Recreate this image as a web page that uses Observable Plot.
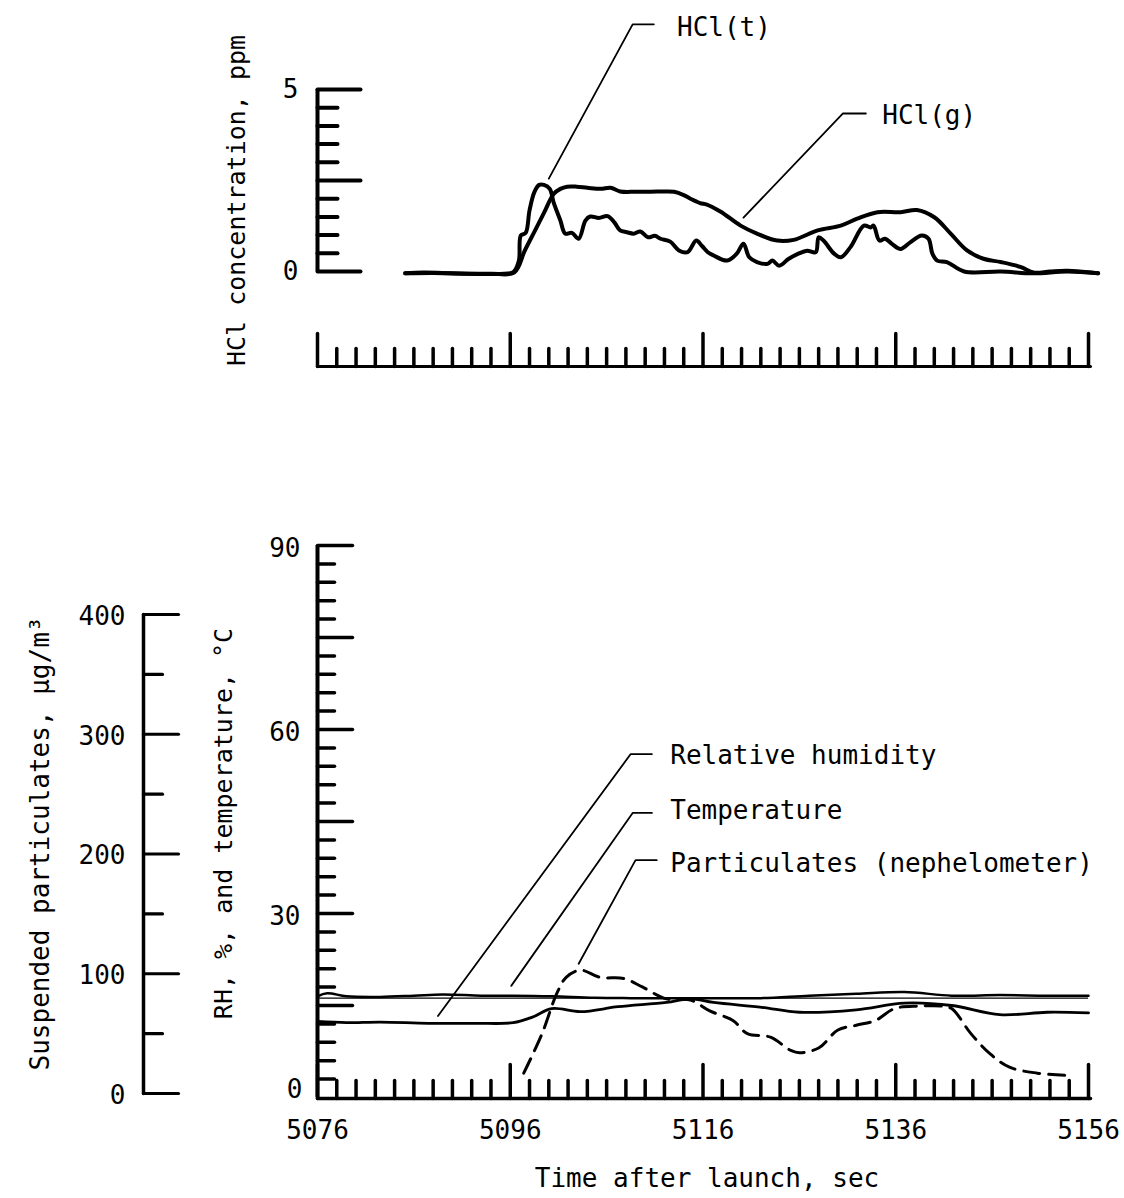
<!DOCTYPE html>
<html><head><meta charset="utf-8">
<script src="https://cdn.jsdelivr.net/npm/d3@7"></script>
<script src="https://cdn.jsdelivr.net/npm/@observablehq/plot@0.6"></script>
<style>
html,body{margin:0;padding:0;background:#fff;}
#chart{position:relative;width:1124px;height:1198px;background:#fff;overflow:hidden;}
#chart svg{position:absolute;left:0;}
</style></head><body><div id="chart"></div>
<script>
// ---------- DATA ----------
// Top panel: HCl concentration, ppm
const hclTTime = [5085.1, 5087, 5090, 5093, 5096, 5096.4, 5096.9, 5097.1, 5097.6, 5098, 5098.5, 5099, 5099.5, 5100.1, 5100.5, 5101.2, 5101.7, 5102.4, 5103.1, 5103.8, 5104.3, 5105.2, 5106.1, 5106.8, 5107.4, 5108.1, 5108.8, 5109.5, 5110.3, 5111, 5111.6, 5112.6, 5113.5, 5114.4, 5115.3, 5115.9, 5116.5, 5117.1, 5118.5, 5119.5, 5120.2, 5120.8, 5121.6, 5122.7, 5123.2, 5123.9, 5124.9, 5125.9, 5126.8, 5127.7, 5128, 5128.5, 5129.6, 5130.3, 5131.3, 5132.7, 5133.4, 5133.7, 5134.3, 5134.9, 5135.6, 5136.5, 5137.5, 5138.7, 5139.4, 5139.8, 5140.3, 5141.3, 5143.1, 5146.9, 5150.3, 5153.8, 5157];
const hclTValue = [-0.05, -0.03, -0.05, -0.07, -0.05, 0.0, 0.3, 0.99, 1.06, 1.68, 2.18, 2.38, 2.38, 2.27, 1.9, 1.4, 1.04, 1.06, 0.9, 1.4, 1.51, 1.47, 1.52, 1.35, 1.13, 1.08, 1.04, 1.1, 0.94, 0.98, 0.9, 0.82, 0.58, 0.53, 0.85, 0.7, 0.53, 0.44, 0.3, 0.49, 0.76, 0.39, 0.26, 0.21, 0.3, 0.16, 0.35, 0.49, 0.57, 0.53, 0.94, 0.85, 0.49, 0.39, 0.67, 1.26, 1.21, 1.26, 0.85, 0.9, 0.76, 0.62, 0.8, 0.99, 0.9, 0.49, 0.3, 0.26, 0.0, 0.0, -0.05, 0.0, -0.05];
const hclGTime = [5085.1, 5088, 5091, 5094, 5096.4, 5097.5, 5098.5, 5099.5, 5100.5, 5101.2, 5101.9, 5102.9, 5104, 5105.4, 5106.4, 5107.4, 5109, 5110.6, 5112, 5113, 5114, 5114.7, 5115.7, 5116.4, 5117.8, 5119.9, 5121.6, 5123.7, 5125.4, 5127.9, 5130.3, 5132, 5134.1, 5136.5, 5138.2, 5140, 5141.7, 5143.4, 5145.1, 5146.9, 5149, 5150.3, 5152, 5153.8, 5157];
const hclGValue = [-0.05, -0.04, -0.06, -0.06, -0.03, 0.57, 1.09, 1.61, 2.13, 2.27, 2.33, 2.33, 2.3, 2.27, 2.3, 2.2, 2.19, 2.19, 2.2, 2.19, 2.1, 2.0, 1.88, 1.84, 1.65, 1.26, 1.04, 0.85, 0.87, 1.13, 1.26, 1.45, 1.63, 1.63, 1.69, 1.49, 1.04, 0.58, 0.35, 0.26, 0.12, -0.03, 0.0, 0.02, -0.05];

// Bottom panel: RH (%), temperature (deg C), particulates (ug/m3)
const tempTime = [5076, 5077, 5079, 5082.5, 5086, 5089, 5093, 5096.3, 5100.3, 5104.7, 5108.5, 5112.2, 5117, 5122, 5127, 5131.9, 5136.9, 5141.8, 5146.8, 5151.7, 5156];
const tempValue = [16.5, 17.0, 16.5, 16.4, 16.6, 16.8, 16.6, 16.6, 16.5, 16.25, 16.2, 16.2, 16.2, 16.2, 16.6, 16.9, 17.2, 16.6, 16.7, 16.6, 16.6];
const tempRefValue = [16.2];
const rhTime = [5076, 5079, 5082.5, 5087.5, 5092.4, 5096.3, 5098.3, 5100.3, 5103.3, 5107.2, 5112.2, 5114.7, 5117.1, 5122.1, 5126, 5131.9, 5136.9, 5141.8, 5146.8, 5151.7, 5156];
const rhValue = [12.4, 12.2, 12.3, 12.1, 12.1, 12.2, 13.1, 14.5, 14.0, 14.8, 15.5, 16.1, 15.5, 14.7, 13.9, 14.3, 15.4, 15.0, 13.5, 13.9, 13.8];
const partTime = [5097.4, 5099.3, 5100.8, 5101.8, 5103.3, 5105.3, 5107.8, 5109.7, 5112.2, 5114.7, 5116.7, 5119.1, 5120.6, 5123, 5125.1, 5126, 5128, 5130, 5131.9, 5133.9, 5135.9, 5138.4, 5140.8, 5141.8, 5143.8, 5145.8, 5147.8, 5150.7, 5153.9];
const partValue = [17, 50, 83, 97, 103, 97, 96, 89, 79, 78, 69, 61, 50, 47, 36, 34, 38, 53, 57, 61, 71, 73, 73, 71, 50, 33, 22, 17, 15];

// Ticks and labels
const timeDomain = [5076, 5156];
const timeMajorTicks = [5076, 5096, 5116, 5136, 5156];
const timeMinorTicks = d3.range(5078, 5156, 2).filter(d => (d - 5076) % 20 !== 0);
const timeLabels = [5076, 5096, 5116, 5136, 5156];
const hclMajorTicks = [0, 2.5, 5];
const hclMinorTicks = [0.5, 1, 1.5, 2, 3, 3.5, 4, 4.5];
const hclLabels = [0, 5];
const rhMajorTicks = [15, 30, 45, 60, 75, 90];
const rhMinorTicks = d3.range(3, 90, 3).filter(d => d % 15 !== 0);
const rhLabels = [30, 60, 90];
const rhZeroLabel = [0];
const partMajorTicks = [0, 100, 200, 300, 400];
const partMinorTicks = [50, 150, 250, 350];
const partLabels = [0, 100, 200, 300, 400];

// Annotations (data units)
const topLeaders = [
  {id: "HCl(t)", t: 5100.0, v: 2.55}, {id: "HCl(t)", t: 5108.7, v: 6.79}, {id: "HCl(t)", t: 5110.9, v: 6.79},
  {id: "HCl(g)", t: 5120.2, v: 1.48}, {id: "HCl(g)", t: 5130.5, v: 4.34}, {id: "HCl(g)", t: 5132.9, v: 4.34}
];
const topNotes = [{label: "HCl(t)", t: 5113.3, v: 6.70}, {label: "HCl(g)", t: 5134.6, v: 4.29}];
const bottomLeaders = [
  {id: "rh", t: 5088.5, v: 13.3}, {id: "rh", t: 5108.5, v: 56.0}, {id: "rh", t: 5110.7, v: 56.0},
  {id: "temp", t: 5096.1, v: 18.2}, {id: "temp", t: 5108.7, v: 46.4}, {id: "temp", t: 5110.7, v: 46.4},
  {id: "part", t: 5103.1, v: 21.8}, {id: "part", t: 5109.0, v: 38.7}, {id: "part", t: 5111.2, v: 38.7}
];
const bottomNotes = [
  {label: "Relative humidity", t: 5112.6, v: 55.7},
  {label: "Temperature", t: 5112.6, v: 46.7},
  {label: "Particulates (nephelometer)", t: 5112.6, v: 38.1}
];

// ---------- DRAWING ----------
const zip = (ts, vs) => ts.map((t, i) => ({t, v: vs[i]}));
const hclT = zip(hclTTime, hclTValue);
const hclG = zip(hclGTime, hclGValue);
const temp = zip(tempTime, tempValue);
const rh = zip(rhTime, rhValue);
const part = zip(partTime, partValue);

const W = 1124;
const xRange = [317, 1088];
const FONT = "'DejaVu Sans Mono', monospace";
const style = {fontFamily: FONT, fontSize: "26px", color: "black", background: "transparent", overflow: "visible"};
const tickShape = {draw(ctx, l) { ctx.moveTo(0, 0); ctx.lineTo(0, -l); }};
const tick = (data, opts) => Plot.vector(data, {anchor: "start", shape: tickShape, stroke: "black", ...opts});

const chart = document.getElementById("chart");
function place(svg, top) { svg.style.top = top + "px"; chart.appendChild(svg); }

// Top panel
const topH = 400;
const topPlot = Plot.plot({
  width: W, height: topH,
  marginLeft: xRange[0], marginRight: W - xRange[1], marginTop: 0, marginBottom: 34,
  x: {domain: timeDomain, range: xRange, axis: null},
  y: {domain: [0, 5], range: [271, 89], axis: null},
  style,
  marks: [
    Plot.ruleX([timeDomain[0]], {y1: 0, y2: 5, strokeWidth: 4}),
    tick(hclMajorTicks, {x: timeDomain[0], y: d => d, rotate: 90, length: 43, strokeWidth: 4}),
    tick(hclMinorTicks, {x: timeDomain[0], y: d => d, rotate: 90, length: 20, strokeWidth: 4}),
    Plot.text(hclLabels, {x: timeDomain[0], y: d => d, text: d => String(d), dx: -19, textAnchor: "end"}),
    Plot.text(["HCl concentration, ppm"], {frameAnchor: "left", textAnchor: "middle", lineAnchor: "middle", dx: -81, dy: 17, rotate: -90, fontSize: 25}),
    tick([timeDomain[0]], {x: d => d, frameAnchor: "bottom", rotate: 90, length: xRange[1] - xRange[0] + 2, strokeWidth: 3}),
    tick(timeMajorTicks, {x: d => d, frameAnchor: "bottom", length: 33, strokeWidth: 3.5}),
    tick(timeMinorTicks, {x: d => d, frameAnchor: "bottom", length: 18, strokeWidth: 3.5}),
    Plot.line(hclG, {x: "t", y: "v", strokeWidth: 4, curve: "catmull-rom"}),
    Plot.line(hclT, {x: "t", y: "v", strokeWidth: 4, curve: "catmull-rom"}),
    Plot.line(topLeaders, {x: "t", y: "v", z: "id", strokeWidth: 1.8}),
    Plot.text(topNotes, {x: "t", y: "v", text: "label", textAnchor: "start"})
  ]
});
place(topPlot, 0);

// Bottom panel
const botTop = 400, botH = 798;
const bottomPlot = Plot.plot({
  width: W, height: botH,
  marginLeft: xRange[0], marginRight: W - xRange[1], marginTop: 0, marginBottom: 100,
  x: {domain: timeDomain, range: xRange, axis: null},
  y: {domain: [0, 90], range: [697, 145], axis: null},
  style,
  marks: [
    Plot.ruleX([timeDomain[0]], {y1: 0, y2: 90, strokeWidth: 4}),
    tick(rhMajorTicks, {x: timeDomain[0], y: d => d, rotate: 90, length: 35, strokeWidth: 3.5}),
    tick(rhMinorTicks, {x: timeDomain[0], y: d => d, rotate: 90, length: 17, strokeWidth: 3.5}),
    Plot.text(rhLabels, {x: timeDomain[0], y: d => d, text: d => String(d), dx: -17, dy: 3, textAnchor: "end"}),
    Plot.text(rhZeroLabel, {x: timeDomain[0], y: d => d, text: d => String(d), dx: -15, dy: -8, textAnchor: "end"}),
    Plot.text(["RH, %, and temperature, °C"], {frameAnchor: "left", textAnchor: "middle", lineAnchor: "middle", dx: -94, dy: 74, rotate: -90, fontSize: 25}),
    tick([timeDomain[0]], {x: d => d, frameAnchor: "bottom", rotate: 90, length: xRange[1] - xRange[0] + 2, strokeWidth: 3.5}),
    tick(timeMajorTicks, {x: d => d, frameAnchor: "bottom", length: 34, strokeWidth: 3.5}),
    tick(timeMinorTicks, {x: d => d, frameAnchor: "bottom", length: 18, strokeWidth: 3.5}),
    Plot.text(timeLabels, {x: d => d, frameAnchor: "bottom", lineAnchor: "middle", dy: 32, text: d => String(d)}),
    Plot.text(["Time after launch, sec"], {frameAnchor: "bottom", lineAnchor: "middle", dx: 4, dy: 80}),
    Plot.ruleY(tempRefValue, {x1: timeDomain[0], x2: timeDomain[1], strokeWidth: 1.2}),
    Plot.line(temp, {x: "t", y: "v", strokeWidth: 2.5, curve: "catmull-rom"}),
    Plot.line(rh, {x: "t", y: "v", strokeWidth: 2.8, curve: "catmull-rom"}),
    Plot.line(bottomLeaders, {x: "t", y: "v", z: "id", strokeWidth: 1.8}),
    Plot.text(bottomNotes, {x: "t", y: "v", text: "label", textAnchor: "start"})
  ]
});
place(bottomPlot, botTop);

// Particulates overlay (left axis + dashed series)
const partRange = [693, 214];
const partPlot = Plot.plot({
  width: W, height: botH,
  marginLeft: 143, marginRight: W - xRange[1], marginTop: 0, marginBottom: 100,
  x: {domain: timeDomain, range: xRange, axis: null},
  y: {domain: [0, 400], range: partRange, axis: null},
  style,
  marks: [
    tick([0], {y: d => d, frameAnchor: "left", length: partRange[0] - partRange[1], strokeWidth: 3.5}),
    tick(partMajorTicks, {y: d => d, frameAnchor: "left", rotate: 90, length: 35, strokeWidth: 3.2}),
    tick(partMinorTicks, {y: d => d, frameAnchor: "left", rotate: 90, length: 19, strokeWidth: 3.2}),
    Plot.text(partLabels, {y: d => d, frameAnchor: "left", text: d => String(d), dx: -18, dy: 2, textAnchor: "end"}),
    Plot.text(["Suspended particulates, µg/m³"], {frameAnchor: "left", textAnchor: "middle", lineAnchor: "middle", dx: -103, dy: 94, rotate: -90}),
    Plot.line(part, {x: "t", y: "v", strokeWidth: 3, strokeDasharray: "16,9", curve: "catmull-rom"})
  ]
});
place(partPlot, botTop);
</script></body></html>
